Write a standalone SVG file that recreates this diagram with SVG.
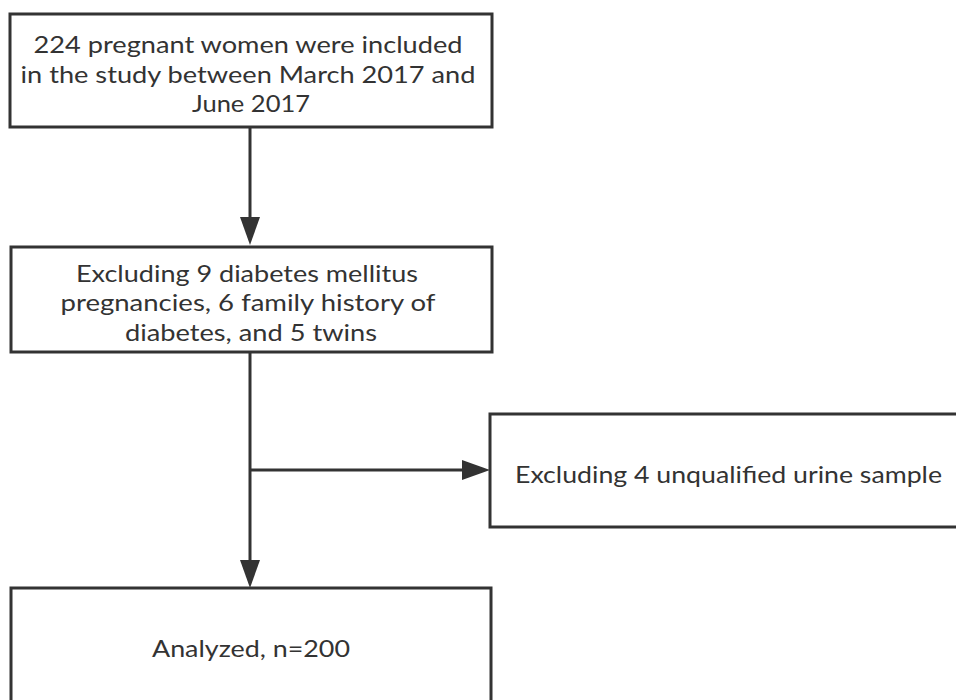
<svg xmlns="http://www.w3.org/2000/svg" width="956" height="700" viewBox="0 0 956 700">
<defs>
<style>
.box{fill:#fff;stroke:#333;stroke-width:3}
.t{font-family:Lato,"Noto Sans","DejaVu Sans",sans-serif;font-size:24px;fill:#333;text-anchor:middle}
.tl{font-family:Lato,"Noto Sans","DejaVu Sans",sans-serif;font-size:24px;fill:#333}
.c{stroke:#333;stroke-width:3;fill:none}
</style>
<marker id="ah" viewBox="0 0 28 20" refX="0" refY="10" markerWidth="28" markerHeight="20" markerUnits="userSpaceOnUse" orient="auto">
<path d="M0,0 L28,10 L0,20 Z" fill="#333"/>
</marker>
</defs>
<rect width="956" height="700" fill="#fff"/>
<g id="connectors">
<line class="c" x1="250" y1="127" x2="250" y2="217" marker-end="url(#ah)"/>
<line class="c" x1="250" y1="352" x2="250" y2="560" marker-end="url(#ah)"/>
<line class="c" x1="250" y1="470" x2="462" y2="470" marker-end="url(#ah)"/>
</g>
<g id="n1">
<rect class="box" x="10" y="14" width="482" height="113"/>
<text class="t" x="248" y="53" textLength="429" lengthAdjust="spacingAndGlyphs">224 pregnant women were included</text>
<text class="t" x="248" y="83" textLength="455" lengthAdjust="spacingAndGlyphs">in the study between March 2017 and</text>
<text class="t" x="251" y="112" textLength="118" lengthAdjust="spacingAndGlyphs">June 2017</text>
</g>
<g id="n2">
<rect class="box" x="11" y="247" width="481" height="105"/>
<text class="t" x="247" y="282" textLength="342" lengthAdjust="spacingAndGlyphs">Excluding 9 diabetes mellitus</text>
<text class="t" x="248" y="311" textLength="375" lengthAdjust="spacingAndGlyphs">pregnancies, 6 family history of</text>
<text class="t" x="251" y="341" textLength="252" lengthAdjust="spacingAndGlyphs">diabetes, and 5 twins</text>
</g>
<g id="n3">
<rect class="box" x="490" y="414" width="480" height="113"/>
<text class="tl" x="515" y="483" textLength="427" lengthAdjust="spacingAndGlyphs">Excluding 4 unqualified urine sample</text>
</g>
<g id="n4">
<rect class="box" x="11" y="588" width="480" height="130"/>
<text class="tl" x="152" y="657" textLength="198" lengthAdjust="spacingAndGlyphs">Analyzed, n=200</text>
</g>
</svg>
